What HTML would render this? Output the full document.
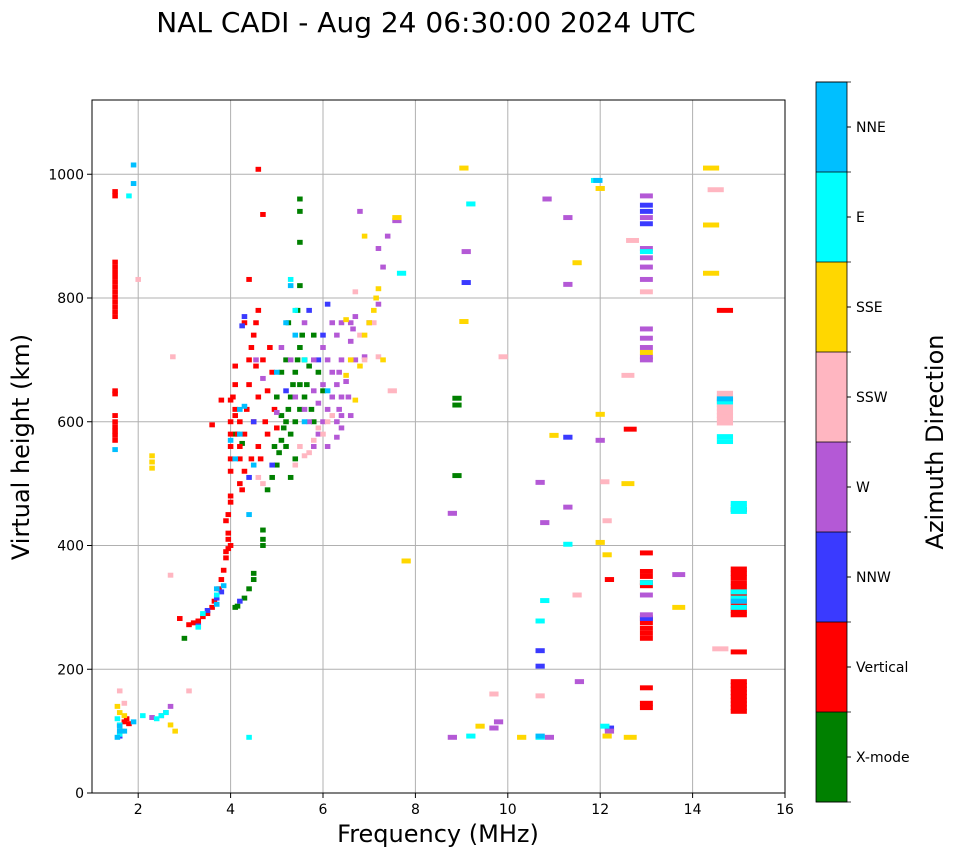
<!DOCTYPE html>
<html><head><meta charset="utf-8">
<style>
body{margin:0;background:#fff;font-family:"DejaVu Sans",sans-serif;}
svg text{font-family:"DejaVu Sans","Liberation Sans",sans-serif;}
</style></head>
<body>
<svg id="chart" width="958" height="857" xmlns="http://www.w3.org/2000/svg">
<rect width="958" height="857" fill="#fff"/>
<text x="426" y="32" font-size="28" text-anchor="middle">NAL CADI - Aug 24 06:30:00 2024 UTC</text>
<g id="grid"></g>
<clipPath id="plotclip"><rect x="92" y="100" width="693" height="693"/></clipPath>
<g id="marks" clip-path="url(#plotclip)"></g>
<rect x="92" y="100" width="693" height="693" fill="none" stroke="#000" stroke-width="1"/>
<g id="axes"></g>
<text x="438" y="842" font-size="24" text-anchor="middle">Frequency (MHz)</text>
<text transform="translate(29,447) rotate(-90)" font-size="24" text-anchor="middle">Virtual height (km)</text>
<g id="colorbar"></g>
<text transform="translate(943,442) rotate(-90)" font-size="24" text-anchor="middle">Azimuth Direction</text>
</svg>
<script>
const directions=["X-mode","Vertical","NNW","W","SSW","SSE","E","NNE"];
const dirColors=["#008000","#ff0000","#3a3aff","#b459d6","#ffb6c1","#ffd700","#00ffff","#00bfff"];
const xTicks=[2,4,6,8,10,12,14,16];
const yTicks=[0,200,400,600,800,1000];
const xmode=[[3.0,250],[4.1,300],[4.15,302],[4.3,315],[4.4,330],[4.5,355],[4.5,345],[4.7,400],[4.7,410],[4.7,425],[4.8,490],[4.9,510],[5.0,530],[5.05,550],[5.1,570],[5.15,590],[5.2,600],[5.25,620],[5.3,640],[5.35,660],[5.4,680],[5.45,700],[5.5,720],[5.55,740],[5.2,560],[5.3,580],[5.4,600],[5.5,620],[5.6,640],[5.65,660],[5.7,690],[5.5,660],[5.6,700],[5.75,620],[5.8,600],[5.4,540],[5.3,510],[5.0,640],[5.1,680],[5.2,700],[5.45,780],[5.5,820],[5.5,890],[5.5,940],[5.5,960],[5.8,740],[5.9,680],[6.0,650],[5.25,760],[5.1,610],[4.95,560],[8.9,638],[8.9,627],[8.9,513],[4.1,580],[4.25,565]];
const vertical=[[1.5,770],[1.5,778],[1.5,786],[1.5,794],[1.5,802],[1.5,810],[1.5,818],[1.5,826],[1.5,834],[1.5,842],[1.5,850],[1.5,858],[1.5,650],[1.5,645],[1.5,610],[1.5,600],[1.5,592],[1.5,585],[1.5,578],[1.5,570],[1.5,965],[1.5,972],[1.6,110],[1.7,115],[1.8,112],[1.75,120],[2.9,282],[3.1,272],[3.2,275],[3.3,278],[3.4,285],[3.5,290],[3.6,300],[3.65,310],[3.75,330],[3.8,345],[3.85,360],[3.9,380],[3.9,390],[3.95,410],[3.95,420],[3.9,440],[3.95,450],[4.0,470],[4.0,480],[3.95,395],[4.0,400],[4.0,520],[4.0,540],[4.0,560],[4.0,580],[4.0,600],[4.1,610],[4.1,620],[4.05,640],[4.1,660],[4.1,690],[4.2,600],[4.2,560],[4.2,540],[4.2,500],[4.25,490],[4.3,520],[4.3,580],[4.35,620],[4.4,660],[4.4,700],[4.45,720],[4.5,740],[4.55,760],[4.6,780],[4.55,690],[4.6,640],[4.6,560],[4.5,600],[4.65,540],[4.7,700],[4.75,600],[4.8,580],[4.8,650],[4.85,720],[4.9,680],[4.95,620],[5.0,590],[4.4,830],[4.6,1008],[4.7,935],[4.0,635],[3.8,635],[3.6,595],[4.3,760],[4.45,540],[4.15,580],[12.2,345],[12.65,588],[13.0,250],[13.0,258],[13.0,266],[13.0,275],[13.0,283],[13.0,335],[13.0,340],[13.0,350],[13.0,358],[13.0,388],[13.0,170],[13.0,145],[13.0,138],[14.7,780],[15.0,132],[15.0,138],[15.0,144],[15.0,150],[15.0,156],[15.0,162],[15.0,168],[15.0,174],[15.0,180],[15.0,228],[15.0,288],[15.0,295],[15.0,302],[15.0,310],[15.0,318],[15.0,325],[15.0,333],[15.0,340],[15.0,348],[15.0,355],[15.0,362],[15.0,458]];
const nnw=[[3.3,270],[3.5,295],[3.7,315],[3.8,325],[4.2,310],[4.25,755],[4.3,770],[4.5,600],[4.4,510],[4.9,530],[5.2,650],[5.7,780],[6.1,790],[6.0,740],[5.9,700],[9.1,825],[10.7,230],[10.7,205],[11.3,575],[13.0,940],[13.0,950],[13.0,920],[12.2,105],[1.6,92],[13.0,282]];
const west=[[5.8,560],[5.9,580],[6.0,600],[6.1,620],[6.2,640],[6.3,660],[6.35,680],[6.4,700],[6.35,620],[6.3,600],[6.4,590],[6.2,680],[6.1,700],[6.0,720],[6.2,760],[6.3,740],[6.4,760],[5.9,630],[5.8,650],[5.7,600],[5.6,620],[6.0,660],[6.1,560],[6.3,575],[6.4,640],[6.4,610],[5.4,640],[5.3,700],[5.6,760],[5.8,700],[6.6,730],[6.65,750],[6.7,770],[6.7,700],[6.9,705],[7.0,760],[7.2,790],[7.3,850],[7.4,900],[6.8,940],[7.6,925],[7.2,880],[2.7,140],[2.6,130],[2.5,125],[2.3,122],[9.1,875],[8.8,90],[9.8,115],[9.7,105],[10.7,502],[10.8,437],[10.85,960],[11.3,930],[11.3,462],[11.3,822],[11.55,180],[12.0,570],[12.2,100],[10.9,90],[13.0,965],[13.0,930],[13.0,880],[13.0,865],[13.0,850],[13.0,830],[13.0,750],[13.0,735],[13.0,720],[13.0,705],[13.0,700],[13.0,320],[13.0,288],[13.7,353],[8.8,452],[4.55,700],[4.7,670],[5.0,615],[5.1,720],[6.5,665],[6.55,640],[6.6,610],[6.6,760]];
const ssw=[[1.6,165],[1.7,145],[2.0,830],[2.7,352],[2.75,705],[3.1,165],[5.5,560],[5.6,545],[5.7,550],[5.8,570],[5.9,590],[6.0,580],[6.1,600],[6.2,610],[5.4,530],[4.6,510],[4.7,500],[6.6,700],[6.7,810],[6.8,740],[6.9,700],[7.1,760],[7.2,705],[7.5,650],[9.9,705],[9.7,160],[10.7,157],[11.5,320],[12.1,503],[12.15,440],[12.7,893],[12.6,675],[13.0,810],[14.5,975],[14.6,233],[14.7,598],[14.7,604],[14.7,610],[14.7,616],[14.7,622],[14.7,628],[14.7,634],[14.7,640],[14.7,646]];
const sse=[[1.55,140],[1.6,130],[1.65,100],[1.7,125],[2.3,545],[2.3,535],[2.3,525],[2.7,110],[2.8,100],[6.6,700],[6.7,635],[6.9,740],[7.0,760],[7.1,780],[7.15,800],[7.2,815],[7.3,700],[6.9,900],[7.6,930],[7.8,375],[9.05,1010],[9.05,762],[9.4,108],[10.3,90],[11.5,857],[12.0,612],[12.0,405],[12.0,977],[12.15,385],[12.15,92],[12.6,500],[12.65,90],[13.0,712],[13.7,300],[14.4,1010],[14.4,918],[14.4,840],[11.0,578],[6.5,765],[6.8,690],[6.5,675]];
const east=[[1.55,120],[1.6,95],[1.8,965],[1.6,110],[2.1,125],[2.4,120],[2.5,125],[2.6,130],[3.3,268],[3.4,290],[3.7,320],[4.4,90],[5.3,830],[5.4,780],[5.6,700],[7.7,840],[9.2,952],[9.2,92],[10.7,278],[10.8,311],[10.7,90],[11.3,402],[11.9,990],[12.1,108],[13.0,875],[13.0,340],[14.7,632],[14.7,576],[14.7,568],[15.0,455],[15.0,462],[15.0,468],[15.0,315],[15.0,300],[15.0,325]];
const nne=[[1.55,90],[1.6,100],[1.9,1015],[1.9,985],[1.9,115],[1.7,100],[3.7,330],[3.7,305],[3.85,335],[4.2,620],[4.2,580],[4.3,625],[4.0,570],[4.1,540],[4.4,450],[4.5,530],[5.2,760],[5.3,820],[5.4,740],[5.6,600],[5.0,680],[6.1,650],[1.5,555],[1.6,108],[10.7,92],[11.95,990],[14.7,637],[15.0,310]];
const series=[xmode,vertical,nnw,west,ssw,sse,east,nne];
const seriesNames=["xmode","vertical","nnw","w","ssw","sse","e","nne"];

const NS="http://www.w3.org/2000/svg";
const X0=92,X1=785,Y0=793,Y1=100,FMIN=1,FMAX=16,HMIN=0,HMAX=1120;
function xs(f){return X0+(f-FMIN)/(FMAX-FMIN)*(X1-X0);}
function ys(h){return Y0-(h-HMIN)/(HMAX-HMIN)*(Y0-Y1);}
function mk(tag,attrs,parent){const e=document.createElementNS(NS,tag);for(const k in attrs)e.setAttribute(k,attrs[k]);parent.appendChild(e);return e;}
function markWidth(f){return f>=14?0.35:(f>=12.5?0.28:(f>=7.5?0.2:0.12));}

const grid=document.getElementById('grid'),axes=document.getElementById('axes'),marks=document.getElementById('marks');
xTicks.forEach(t=>{
  const x=xs(t);
  const gl=mk('line',{x1:x,x2:x,y1:Y1,y2:Y0,stroke:'#b0b0b0','stroke-width':1},grid);
  
  
  mk('line',{x1:x,x2:x,y1:Y0,y2:Y0+5,stroke:'#000'},axes);
  const tx=mk('text',{x:x,y:Y0+21,'font-size':14,'text-anchor':'middle'},axes);
  tx.textContent=t;
  
  
});
yTicks.forEach(t=>{
  const y=ys(t);
  const gl=mk('line',{x1:X0,x2:X1,y1:y,y2:y,stroke:'#b0b0b0','stroke-width':1},grid);
  
  
  mk('line',{x1:X0-5,x2:X0,y1:y,y2:y,stroke:'#000'},axes);
  const tx=mk('text',{x:X0-8,y:y+5,'font-size':14,'text-anchor':'end'},axes);
  tx.textContent=t;
  
  
});
series.forEach((pts,si)=>{
  const g=mk('g',{},marks);
  
  
  pts.forEach(p=>{
    const w=markWidth(p[0]);
    const x=xs(p[0]-w/2),x2=xs(p[0]+w/2);
    const y=ys(p[1]+4),y2=ys(p[1]-4);
    const r=mk('rect',{x:x,y:y,width:x2-x,height:y2-y,fill:dirColors[si]},g);
    
    
  });
});
const cb=document.getElementById('colorbar');
const CBX=816,CBW=31,CBT=82,CBB=802,segH=(CBB-CBT)/directions.length;
directions.forEach((d,i)=>{
  const y=CBB-(i+1)*segH;
  const r=mk('rect',{x:CBX,y:y,width:CBW,height:segH,fill:dirColors[i]},cb);
  
  
  mk('line',{x1:CBX+CBW,x2:CBX+CBW+4,y1:y+segH/2,y2:y+segH/2,stroke:'#000'},cb);
  const tx=mk('text',{x:CBX+CBW+9,y:y+segH/2+5,'font-size':14},cb);
  tx.textContent=d;
  
  
});
for(let i=0;i<=directions.length;i++){
  const y=CBB-i*segH;
  mk('line',{x1:CBX,x2:CBX+CBW+4,y1:y,y2:y,stroke:'#000','stroke-width':0.8},cb);
}
mk('rect',{x:CBX,y:CBT,width:CBW,height:CBB-CBT,fill:'none',stroke:'#000','stroke-width':0.8},cb);
</script>
</body></html>
